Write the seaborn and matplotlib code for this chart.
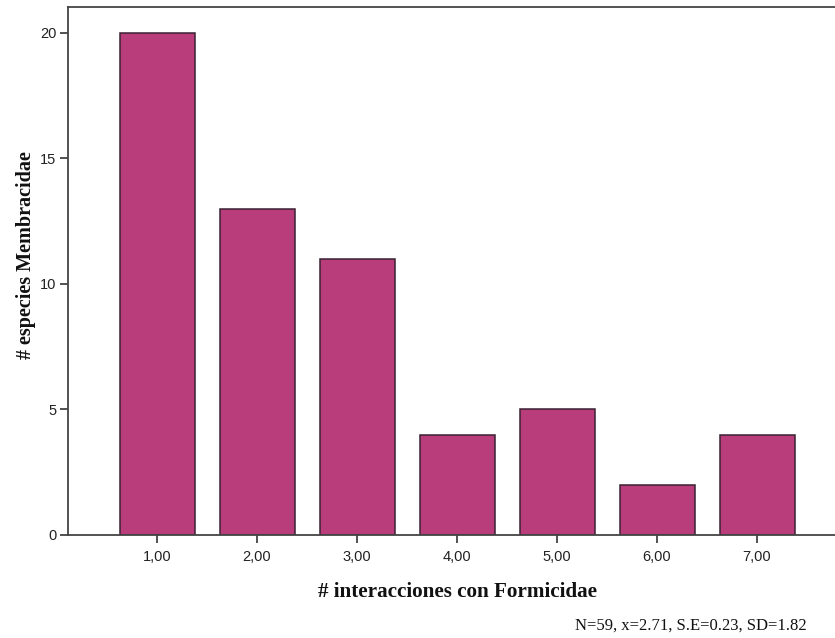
import matplotlib
matplotlib.use("Agg")
import matplotlib.pyplot as plt
import seaborn as sns
import pandas as pd

interacciones = [1, 2, 3, 4, 5, 6, 7]
especies = [20, 13, 11, 4, 5, 2, 4]
x_tick_labels = ["1,00", "2,00", "3,00", "4,00", "5,00", "6,00", "7,00"]
y_ticks = [0, 5, 10, 15, 20]
note = "N=59, x=2.71, S.E=0.23, SD=1.82"

sns.set_theme(style="white")
plt.rcParams['font.family'] = ['Liberation Sans', 'DejaVu Sans']

df = pd.DataFrame({"x": interacciones, "y": especies})

fig = plt.figure(figsize=(8.35, 6.38), dpi=100)
ax = fig.add_axes([68/835, 103/638, 1 - 68/835, (535-7)/638])

sns.barplot(data=df, x="x", y="y", native_scale=True, width=0.75,
            color="#BA3D7B", saturation=1, edgecolor="#3a2232",
            linewidth=1.1, ax=ax)

ax.set_xlim(0.11, 7.78)
ax.set_ylim(0, 21.03)
ax.set_xticks(interacciones)
ax.set_xticklabels(x_tick_labels)
ax.set_yticks(y_ticks)
ax.set_yticklabels([str(v) for v in y_ticks])
ax.tick_params(axis="both", direction="out", length=5.5, width=1.2,
               color="#333333", labelsize=10.5, labelcolor="#222222",
               bottom=True, left=True)
ax.tick_params(axis="x", pad=5)
ax.tick_params(axis="y", pad=3)

for side in ["left", "bottom", "top"]:
    ax.spines[side].set_visible(True)
    ax.spines[side].set_color("#444444")
    ax.spines[side].set_linewidth(1.3)
ax.spines["right"].set_visible(False)

serif = ["Liberation Serif", "DejaVu Serif"]
ax.set_xlabel("# interacciones con Formicidae", fontsize=15.2, fontweight="bold",
              family=serif, color="#111111", va="center", ha="center")
ax.set_ylabel("# especies Membracidae", fontsize=14.5, fontweight="bold",
              family=serif, color="#111111", va="center", ha="center")
ax.xaxis.set_label_coords((457-68)/767, (535-592)/528)
ax.yaxis.set_label_coords((26-68)/767, (535-255)/528)

fig.text(807/835, 1 - 626/638, note, ha="right", va="center", fontsize=12,
         family=serif, color="#111111")

fig.savefig("out.png", dpi=100)
